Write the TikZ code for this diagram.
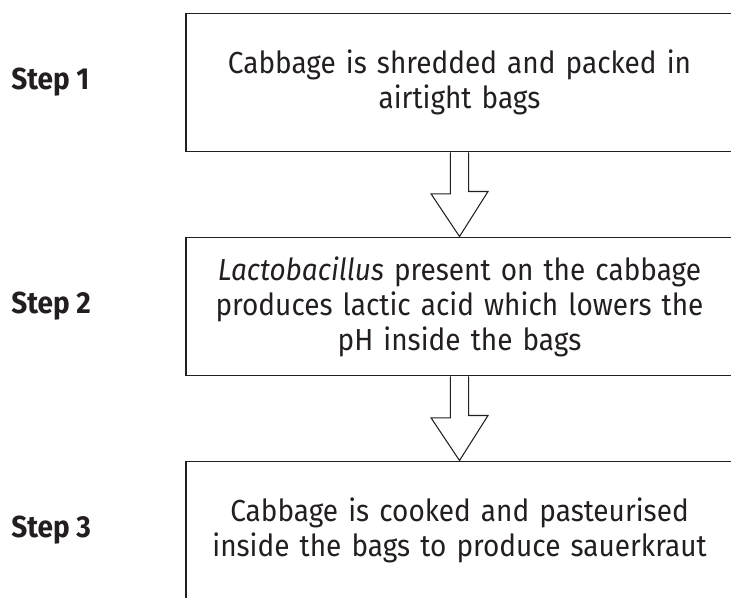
\documentclass[tikz,border=0pt]{standalone}
\usepackage{fontspec}
\setmainfont[FakeStretch=0.92]{Fira Sans}
\usepackage{tikz}
\usetikzlibrary{calc, positioning}
\definecolor{inkgray}{HTML}{231F20}
\tikzstyle{stepbox} = [rectangle, draw=inkgray, line width=0.9pt, minimum width=10.94cm, minimum height=2.764cm, text width=10.7cm, inner sep=0pt, align=center, text=inkgray, font=\fontsize{17.3}{19.9}\selectfont]
\tikzstyle{steplabel} = [anchor=west, inner sep=0pt, text=inkgray, font=\fontsize{17.3}{19.9}\selectfont\bfseries]
\tikzstyle{hollowarrow} = [draw=inkgray, line width=0.6pt, line join=miter]

\begin{document}
\begin{tikzpicture}[node distance=4.48cm, auto]
        \useasboundingbox (0,0) rectangle (14.62,-11.94);

        % Boxes
        \node (box1) [stepbox] at (9.19,-1.648) {Cabbage is shredded and packed in\\airtight bags};
        \node (box2) [stepbox, below of=box1] {\textit{Lactobacillus} present on the cabbage\\produces lactic acid which lowers the\\pH inside the bags};
        \node (box3) [stepbox, below of=box2] {Cabbage is cooked and pasteurised\\inside the bags to produce sauerkraut};

        % Labels
        \node (step1) [steplabel] at (0.22,0 |- box1) {Step 1};
        \node (step2) [steplabel] at (0.22,0 |- box2) {Step 2};
        \node (step3) [steplabel] at (0.22,0 |- box3) {Step 3};

        % Arrows
        \draw [hollowarrow] ($(box1.south)+(-0.183,0)$) -- ++(0,-0.83) -- ++(-0.387,0) -- (box2.north) -- ++(0.57,0.9) -- ++(-0.387,0) -- ($(box1.south)+(0.183,0)$);
        \draw [hollowarrow] ($(box2.south)+(-0.183,0)$) -- ++(0,-0.83) -- ++(-0.387,0) -- (box3.north) -- ++(0.57,0.9) -- ++(-0.387,0) -- ($(box2.south)+(0.183,0)$);

    \end{tikzpicture}
\end{document}
